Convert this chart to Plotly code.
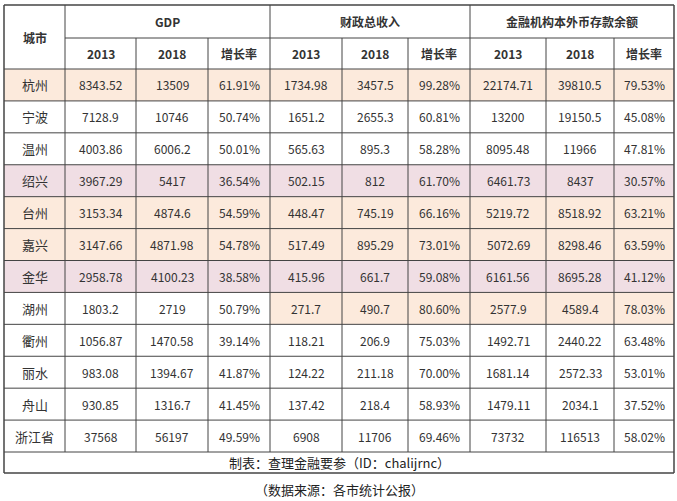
import plotly.graph_objects as go

cities = ["杭州","宁波","温州","绍兴","台州","嘉兴","金华","湖州","衢州","丽水","舟山","浙江省"]
groups = ["GDP","财政总收入","金融机构本外币存款余额"]
sub_headers = ["2013","2018","增长率"]
gdp_2013 = ["8343.52","7128.9","4003.86","3967.29","3153.34","3147.66","2958.78","1803.2","1056.87","983.08","930.85","37568"]
gdp_2018 = ["13509","10746","6006.2","5417","4874.6","4871.98","4100.23","2719","1470.58","1394.67","1316.7","56197"]
gdp_rate = ["61.91%","50.74%","50.01%","36.54%","54.59%","54.78%","38.58%","50.79%","39.14%","41.87%","41.45%","49.59%"]
fis_2013 = ["1734.98","1651.2","565.63","502.15","448.47","517.49","415.96","271.7","118.21","124.22","137.42","6908"]
fis_2018 = ["3457.5","2655.3","895.3","812","745.19","895.29","661.7","490.7","206.9","211.18","218.4","11706"]
fis_rate = ["99.28%","60.81%","58.28%","61.70%","66.16%","73.01%","59.08%","80.60%","75.03%","70.00%","58.93%","69.46%"]
dep_2013 = ["22174.71","13200","8095.48","6461.73","5219.72","5072.69","6161.56","2577.9","1492.71","1681.14","1479.11","73732"]
dep_2018 = ["39810.5","19150.5","11966","8437","8518.92","8298.46","8695.28","4589.4","2440.22","2572.33","2034.1","116513"]
dep_rate = ["79.53%","45.08%","47.81%","30.57%","63.21%","63.59%","41.12%","78.03%","63.48%","53.01%","37.52%","58.02%"]
footer = "制表：查理金融要参（ID：chalijrnc）"
source = "（数据来源：各市统计公报）"

PEACH = "#FCEADC"; PINK = "#F0DEE4"; WHITE = "#FFFFFF"
row_fill = {"杭州":PEACH,"绍兴":PINK,"台州":PEACH,"嘉兴":PEACH,"金华":PINK}

xb = [4, 65, 136, 208, 270, 342, 408, 470, 546, 614, 674]
y_top, y_h1, y_h2, y_end, y_foot = 5, 38, 69, 452, 473
nrows = len(cities)
rh = (y_end - y_h2) / nrows
cols = [cities, gdp_2013, gdp_2018, gdp_rate, fis_2013, fis_2018, fis_rate, dep_2013, dep_2018, dep_rate]

shapes = []; ann = []
FONT = "Noto Sans CJK SC"
def rect(x0, y0, x1, y1, fill):
    shapes.append(dict(type="rect", xref="x", yref="y", x0=x0, x1=x1, y0=y0, y1=y1,
                       fillcolor=fill, line=dict(width=0), layer="below"))
def line(x0, y0, x1, y1, w=1, c="#444"):
    shapes.append(dict(type="line", xref="x", yref="y", x0=x0, x1=x1, y0=y0, y1=y1,
                       line=dict(color=c, width=w)))
def text(x, y, s, size=12, bold=False, color="#333"):
    ann.append(dict(x=x, y=y, xref="x", yref="y", text=f"<b>{s}</b>" if bold else s, showarrow=False,
                    font=dict(family=FONT, size=size, color=color)))

for r, c in enumerate(cities):
    y0 = y_h2 + r * rh; y1 = y0 + rh
    for j in range(len(cols)):
        fill = row_fill.get(c, WHITE)
        if c == "湖州" and j >= 4:
            fill = PEACH
        if fill != WHITE:
            rect(xb[j], y0, xb[j + 1], y1, fill)
        text((xb[j] + xb[j + 1]) / 2, (y0 + y1) / 2, cols[j][r], size=13 if j == 0 else 12)

text((xb[0] + xb[1]) / 2, (y_top + y_h2) / 2, "城市", 12, True)
for g, name in enumerate(groups):
    text((xb[1 + 3 * g] + xb[4 + 3 * g]) / 2, (y_top + y_h1) / 2, name, 12, True)
    for k, s in enumerate(sub_headers):
        j = 1 + 3 * g + k
        text((xb[j] + xb[j + 1]) / 2, (y_h1 + y_h2) / 2, s, 12, True)

line(xb[0], y_top, xb[-1], y_top, 1.5)
line(xb[1], y_h1, xb[-1], y_h1)
for r in range(nrows + 1):
    line(xb[0], y_h2 + r * rh, xb[-1], y_h2 + r * rh)
line(xb[0], y_foot, xb[-1], y_foot, 1.5)
for j, x in enumerate(xb):
    if j in (0, len(xb) - 1):
        line(x, y_top, x, y_foot, 1.5)
    elif j in (1, 4, 7):
        line(x, y_top, x, y_end)
    else:
        line(x, y_h1, x, y_end)

text((xb[0] + xb[-1]) / 2, (y_end + y_foot) / 2, footer, 13, False, "#222")
text((xb[0] + xb[-1]) / 2, 489, source, 13, False, "#222")

fig = go.Figure()
fig.update_layout(width=677, height=501, margin=dict(l=0, r=0, t=0, b=0),
                  plot_bgcolor="white", paper_bgcolor="white", shapes=shapes, annotations=ann,
                  xaxis=dict(range=[0, 677], visible=False, fixedrange=True),
                  yaxis=dict(range=[501, 0], visible=False, fixedrange=True), showlegend=False)
fig.write_html("out.html", config={"displayModeBar": False},
               post_script="document.body.style.margin='0';document.body.style.overflow='hidden';")
